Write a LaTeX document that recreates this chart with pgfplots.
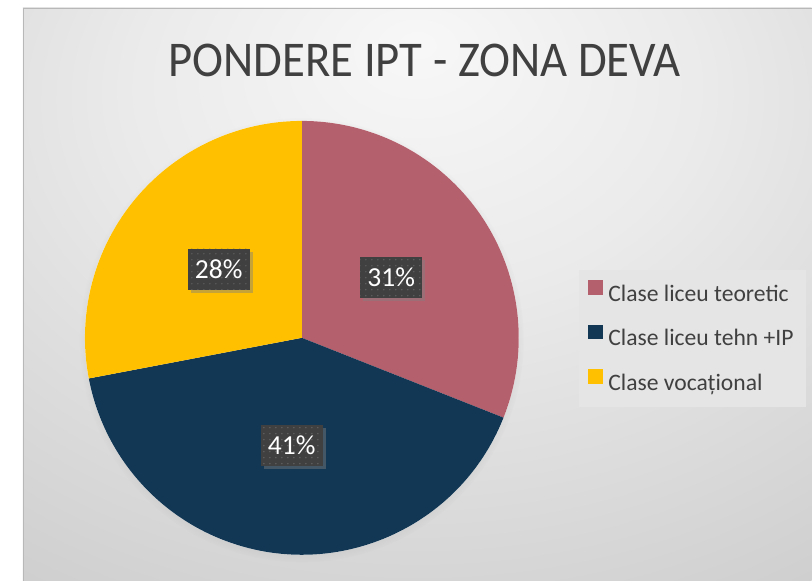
\documentclass[border=0pt]{standalone}
\usepackage{pgfplots}
\pgfplotsset{compat=1.18}
\usepackage{pgfplotstable}
\usepackage{fontspec}
\setmainfont{Carlito}
\usetikzlibrary{shadows,patterns.meta}

\definecolor{cTeor}{RGB}{181,96,109}
\definecolor{cTehn}{RGB}{17,55,84}
\definecolor{cVoc}{RGB}{255,192,0}
\definecolor{txt}{RGB}{64,64,64}
\definecolor{lblbg}{RGB}{64,64,64}
\definecolor{lbldot}{RGB}{95,95,95}
\definecolor{legbg}{RGB}{229,229,229}

\pgfdeclareradialshading{bgshade}{\pgfpoint{0bp}{22bp}}{%
  color(0bp)=(white!97!black); color(18bp)=(white!92!black);
  color(45bp)=(black!19); color(70bp)=(black!24); color(100bp)=(black!27)}

\tikzset{lbl/.style={minimum width=62pt, minimum height=41pt, inner sep=0pt,
    text=white, font=\fontsize{27.5}{29}\selectfont,
    preaction={fill=lblbg, drop shadow={shadow xshift=3pt, shadow yshift=-3pt, opacity=0.45}},
    pattern={Dots[radius=0.8pt, distance=6pt]}, pattern color=lbldot}}

% shares of the three class types (percent)
\pgfplotstableread{
value
31
41
28
}\piedata

\begin{document}
\begin{tikzpicture}
% page and chart area, 1pt = 1px
\fill[white] (0,0) rectangle (812pt,581pt);
\path[shading=bgshade] (23pt,0pt) rectangle (812pt,573pt);
\draw[black!28, line width=0.8pt] (23pt,0pt) -- (23pt,573pt) -- (812pt,573pt);

\pgfplotstablegetelem{0}{value}\of\piedata \pgfmathsetmacro\va{\pgfplotsretval}
\pgfplotstablegetelem{1}{value}\of\piedata \pgfmathsetmacro\vb{\pgfplotsretval}
\pgfplotstablegetelem{2}{value}\of\piedata \pgfmathsetmacro\vc{\pgfplotsretval}
\pgfmathsetmacro\tot{\va+\vb+\vc}
\pgfmathsetmacro\aA{90}
\pgfmathsetmacro\aB{\aA-360*\va/\tot}
\pgfmathsetmacro\aC{\aB-360*\vb/\tot}
\pgfmathsetmacro\aD{\aC-360*\vc/\tot}
\pgfmathsetmacro\mA{(\aA+\aB)/2}
\pgfmathsetmacro\mB{(\aB+\aC)/2}
\pgfmathsetmacro\mC{(\aC+\aD)/2}
\pgfmathtruncatemacro\pa{round(100*\va/\tot)}
\pgfmathtruncatemacro\pb{round(100*\vb/\tot)}
\pgfmathtruncatemacro\pc{round(100*\vc/\tot)}

\begin{axis}[x=1pt, y=1pt, xmin=0, xmax=812, ymin=0, ymax=581,
  at={(0,0)}, anchor=south west, hide axis, clip=false,
  legend cell align=left,
  legend image code/.code={\fill[#1] (0pt,0.8pt) rectangle (14pt,14.3pt);},
  legend style={at={(axis cs:579,311)}, anchor=north west, draw=none, fill=legbg,
    font=\fontsize{23.6}{26}\selectfont, text=txt,
    inner xsep=9pt, inner ysep=10pt, row sep=16.5pt, column sep=3pt,
    nodes={inner xsep=3pt, inner ysep=2pt, text height=18pt, text depth=5pt}}]

\node[font=\fontsize{50}{56}\selectfont, text=txt] at (axis cs:425,521)
  {\scalebox{0.935}[1]{PONDERE IPT - ZONA DEVA}};

\path[fill=white, circular drop shadow={shadow scale=1.025, shadow xshift=0pt, shadow yshift=-2pt, opacity=0.35}]
  (axis cs:302,243) circle[radius=217pt];
\fill[cTeor] (axis cs:302,243) -- ++(\aA:217pt) arc[start angle=\aA, end angle=\aB, radius=217pt] -- cycle;
\fill[cTehn] (axis cs:302,243) -- ++(\aB:217pt) arc[start angle=\aB, end angle=\aC, radius=217pt] -- cycle;
\fill[cVoc]  (axis cs:302,243) -- ++(\aC:217pt) arc[start angle=\aC, end angle=\aD, radius=217pt] -- cycle;

\path (axis cs:302,243) ++(\mA:108pt) node[lbl] {\pa\%};
\path (axis cs:302,243) ++(\mB:108pt) node[lbl] {\pb\%};
\path (axis cs:302,243) ++(\mC:108pt) node[lbl] {\pc\%};

\addlegendimage{cTeor}
\addlegendentry{Clase liceu teoretic}
\addlegendimage{cTehn}
\addlegendentry{Clase liceu tehn +IP}
\addlegendimage{cVoc}
\addlegendentry{Clase vocațional}
\end{axis}
\end{tikzpicture}
\end{document}
